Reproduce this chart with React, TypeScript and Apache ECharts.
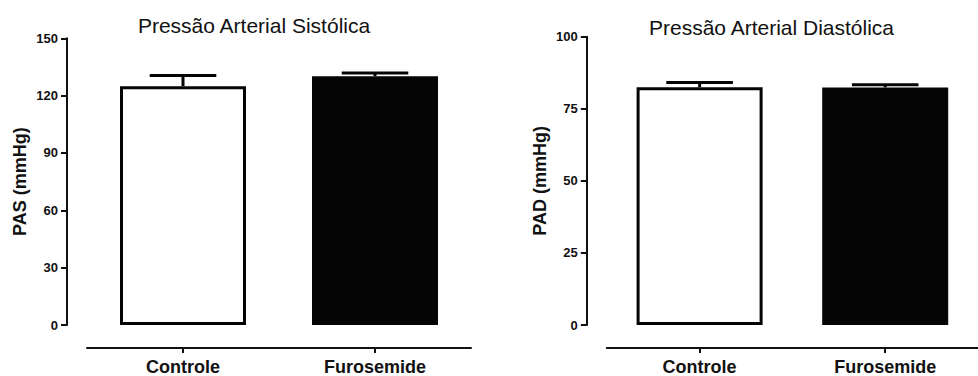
import React, { useEffect, useRef } from "react";
import * as echarts from "echarts";

const CATEGORIES = ["Controle", "Furosemide"];
const PAS_MEAN = [124.9, 130.2];
const PAS_SEM = [5.7, 1.7];
const PAD_MEAN = [82.5, 82.4];
const PAD_SEM = [1.6, 0.9];
const PAS_AXIS = { min: 0, max: 150, interval: 30 };
const PAD_AXIS = { min: 0, max: 100, interval: 25 };
const TITLES = ["Pressão Arterial Sistólica", "Pressão Arterial Diastólica"];
const Y_NAMES = ["PAS (mmHg)", "PAD (mmHg)"];
const BAR_FILLS = ["#ffffff", "#050505"];

const FONT = "'Liberation Sans', Arial, Helvetica, sans-serif";
const INK = "#111111";

export default function App() {
  const ref = useRef<HTMLDivElement | null>(null);

  useEffect(() => {
    if (!ref.current) return;
    const chart = echarts.init(ref.current, undefined, { renderer: "svg" });

    const yAxisBase = (axis: any, name: string, gridIndex: number) => ({
      type: "value",
      gridIndex,
      min: axis.min,
      max: axis.max,
      interval: axis.interval,
      offset: 20,
      name,
      nameLocation: "middle",
      nameRotate: 90,
      nameGap: 38,
      nameTextStyle: { fontFamily: FONT, fontWeight: "bold", fontSize: 18, color: INK },
      axisLine: { show: true, onZero: false, lineStyle: { color: INK, width: 2 } },
      axisTick: { show: true, length: 6, lineStyle: { color: INK, width: 2 } },
      axisLabel: { fontFamily: FONT, fontWeight: "bold", fontSize: 13, color: INK, margin: 9 },
      splitLine: { show: false },
    });

    const xAxisBase = (gridIndex: number) => ({
      type: "category",
      gridIndex,
      data: CATEGORIES,
      offset: 23,
      axisLine: { show: true, onZero: false, lineStyle: { color: INK, width: 2 } },
      axisTick: { show: true, alignWithLabel: true, length: 5, lineStyle: { color: INK, width: 2 } },
      axisLabel: { fontFamily: FONT, fontWeight: "bold", fontSize: 18, color: INK, margin: 10 },
      splitLine: { show: false },
    });

    const barData = (means: number[]) =>
      means.map((v, i) => ({
        value: v,
        itemStyle: { color: BAR_FILLS[i], borderColor: "#050505", borderWidth: 3 },
      }));

    const errData = (means: number[], sems: number[]) =>
      means.map((m, i) => [i, m, m + sems[i]]);

    const renderErr = (params: any, api: any) => {
      const base = api.coord([api.value(0), api.value(1)]);
      const top = api.coord([api.value(0), api.value(2)]);
      const hw = 33.3;
      const style = { stroke: "#050505", lineWidth: 3, fill: null };
      return {
        type: "group",
        children: [
          { type: "line", shape: { x1: base[0], y1: base[1], x2: top[0], y2: top[1] }, style },
          { type: "line", shape: { x1: top[0] - hw, y1: top[1], x2: top[0] + hw, y2: top[1] }, style },
        ],
      };
    };

    const option: any = {
      animation: false,
      backgroundColor: "#ffffff",
      grid: [
        { left: 87, top: 38.3, width: 384, height: 289 },
        { left: 606.8, top: 36.7, width: 381.5, height: 289.3 },
      ],
      xAxis: [xAxisBase(0), xAxisBase(1)],
      yAxis: [yAxisBase(PAS_AXIS, Y_NAMES[0], 0), yAxisBase(PAD_AXIS, Y_NAMES[1], 1)],
      series: [
        { type: "bar", xAxisIndex: 0, yAxisIndex: 0, barWidth: 126, data: barData(PAS_MEAN), z: 2 },
        { type: "custom", xAxisIndex: 0, yAxisIndex: 0, renderItem: renderErr, data: errData(PAS_MEAN, PAS_SEM), z: 3 },
        { type: "bar", xAxisIndex: 1, yAxisIndex: 1, barWidth: 126, data: barData(PAD_MEAN), z: 2 },
        { type: "custom", xAxisIndex: 1, yAxisIndex: 1, renderItem: renderErr, data: errData(PAD_MEAN, PAD_SEM), z: 3 },
      ],
      graphic: [
        {
          type: "text",
          x: 254,
          y: 15,
          style: { text: TITLES[0], align: "center", verticalAlign: "top", fontFamily: FONT, fontSize: 21, fill: INK },
        },
        {
          type: "text",
          x: 771.5,
          y: 17,
          style: { text: TITLES[1], align: "center", verticalAlign: "top", fontFamily: FONT, fontSize: 21, fill: INK },
        },
      ],
    };

    chart.setOption(option);
    return () => chart.dispose();
  }, []);

  return (
    <div
      ref={ref}
      style={{ position: "absolute", left: 0, top: 0, width: 978, height: 376, background: "#fff" }}
    />
  );
}
